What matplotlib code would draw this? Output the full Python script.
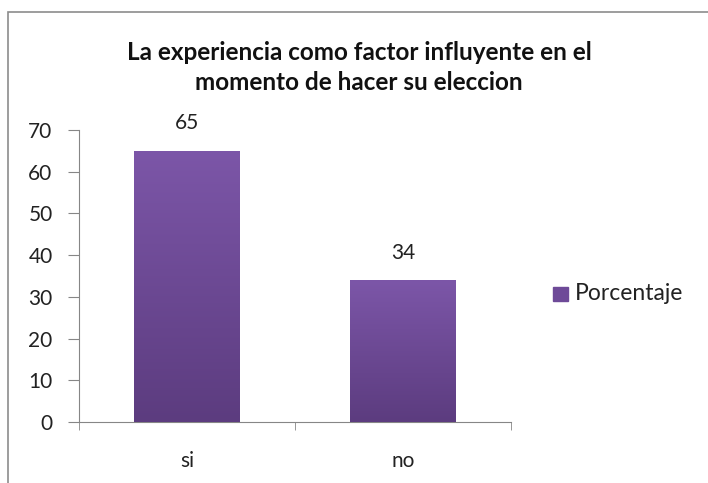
import numpy as np
import matplotlib
matplotlib.use("Agg")
import matplotlib.pyplot as plt
from matplotlib.patches import Rectangle
from matplotlib.colors import LinearSegmentedColormap

categorias = ["si", "no"]
porcentaje = [65, 34]
titulo = "La experiencia como factor influyente en el\nmomento de hacer su eleccion"
serie = "Porcentaje"

plt.rcParams["font.family"] = ["Lato", "DejaVu Sans"]

fig = plt.figure(figsize=(7.08, 4.83), dpi=100)
ax = fig.add_axes([0.1116, 0.1263, 0.6102, 0.6045])

# marco del grafico
fig.patches.append(Rectangle((8 / 708, -0.05), 1.2, 1 - 12 / 483 + 0.05,
                             transform=fig.transFigure, fill=False,
                             edgecolor="#8c8c8c", linewidth=1.2))

x = np.arange(len(categorias))
barras = ax.bar(x, porcentaje, width=0.49, color="#6e4a98", zorder=2)

# degradado vertical en cada barra
degradado = LinearSegmentedColormap.from_list("morado", ["#5c3c7f", "#7c56a8"])
for b in barras:
    x0, y0 = b.get_x(), b.get_y()
    w, h = b.get_width(), b.get_height()
    img = ax.imshow(np.linspace(0, 1, 256).reshape(-1, 1), cmap=degradado,
                    extent=[x0, x0 + w, y0, y0 + h], origin="lower",
                    aspect="auto", zorder=3)
    img.set_clip_path(b)
    ax.text(x0 + w / 2, h + 4.2, f"{h:g}", ha="center", va="bottom",
            fontsize=15, color="#222222")

ax.set_xlim(-0.5, len(categorias) - 0.5)
ax.set_ylim(0, 70)
ax.set_yticks(range(0, 71, 10))
ax.set_xticks(x)
ax.set_xticklabels(categorias)
ax.set_xticks([-0.5, 0.5, 1.5], minor=True)
ax.tick_params(axis="x", which="major", length=0, pad=21, labelsize=15,
               labelcolor="#222222")
ax.tick_params(axis="x", which="minor", length=6, color="#868686")
ax.tick_params(axis="y", length=8, color="#868686", labelsize=15, pad=11,
               labelcolor="#222222")
for s in ["top", "right"]:
    ax.spines[s].set_visible(False)
for s in ["left", "bottom"]:
    ax.spines[s].set_color("#868686")

fig.text(0.507, 0.860, titulo, ha="center", va="center", fontsize=17.5,
         fontweight="bold", linespacing=1.39, color="#111111")

fig.patches.append(Rectangle((553 / 708, 1 - 301 / 483), 15 / 708, 14 / 483,
                             transform=fig.transFigure, color="#6e4a98"))
fig.text(575 / 708, 1 - 294 / 483, serie, ha="left", va="center",
         fontsize=16.5, color="#222222")

fig.savefig("out.png", dpi=100)
